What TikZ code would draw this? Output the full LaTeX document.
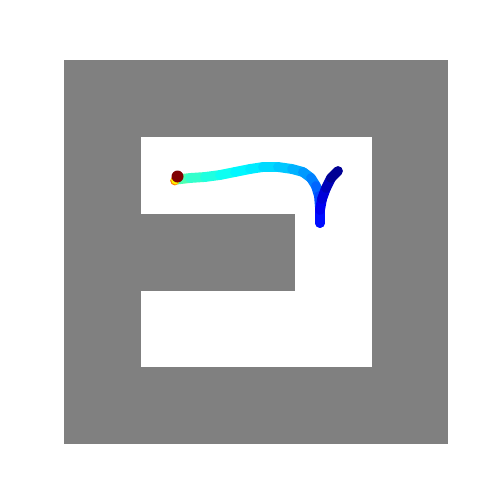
\documentclass[tikz,border=0pt]{standalone}
\definecolor{wall}{RGB}{128,128,128}
\definecolor{marker}{rgb}{0.5,0,0}
\tikzset{trail/.style={line width=5.6pt, line cap=round}}
\begin{document}
\begin{tikzpicture}[x=0.02cm,y=-0.02cm]
\useasboundingbox (0,0) rectangle (500,500);
% walls
\fill[wall] (64,60) rectangle (448,444);
\fill[white] (141,137) rectangle (372,367);
\fill[wall] (141,214) rectangle (295,291);
% trajectory
\foreach \xa/\ya/\xb/\yb/\r/\g/\b in {
 177/179.5/190/178/0.3/1/0.7,
 190/178/205/177/0.2/1/0.8,
 205/177/220/175/0.12/1/0.88,
 220/175/235/172/0.05/1/0.95,
 235/172/250/169/0/0.97/1,
 250/169/263/167/0/0.92/1,
 263/167/278/167/0/0.85/1,
 278/167/292/169/0/0.78/1,
 292/169/303/172/0/0.7/1,
 303/172/311/178/0/0.6/1,
 311/178/316/186/0/0.5/1,
 316/186/319/196/0/0.4/1,
 319/196/320/208/0/0.3/1,
 320/208/320/223/0/0.15/1,
 320/223/320/210/0/0.05/1,
 320/210/322/199/0/0/0.95,
 322/199/326/188/0/0/0.85,
 326/188/331/178/0/0/0.72,
 331/178/338/171/0/0/0.58}{
 \definecolor{seg}{rgb}{\r,\g,\b}
 \draw[trail, seg] (\xa,\ya) -- (\xb,\yb);
}
% start colours (under the marker)
\fill[orange] (174.8,180.8) circle (4.6);
\fill[yellow] (175.5,180) circle (4.4);
% start marker
\fill[marker] (177.5,176.5) circle (6);
\end{tikzpicture}
\end{document}
